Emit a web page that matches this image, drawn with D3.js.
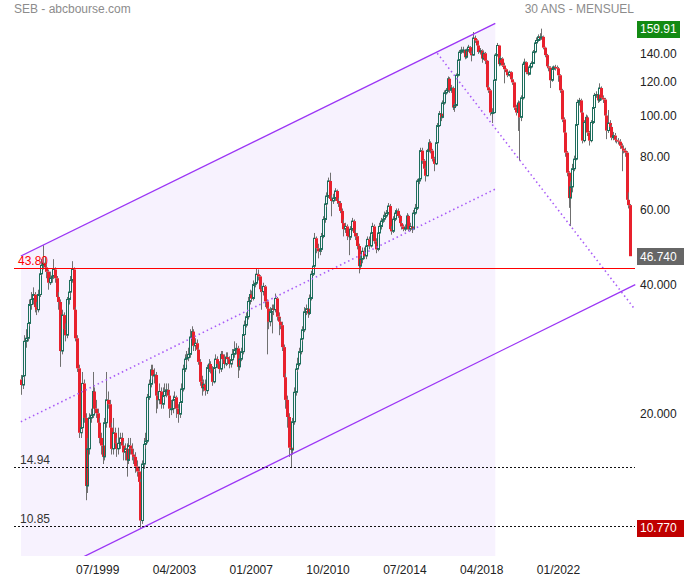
<!DOCTYPE html>
<html>
<head>
<meta charset="utf-8">
<script src="https://cdn.jsdelivr.net/npm/d3@7"></script>
<style>
    body { margin: 0; background: #fff; }
    svg { display: block; }
</style>
</head>
<body>
<div id="chart"></div>
<script>
// monthly candles, first one is 10/1995
var firstMonth = new Date(1995, 9, 1);
var firstOpen = 24.0;

var closes = [
    23.3, 24.5, 29.5, 30.0, 32.5, 36.0, 37.0, 38.0, 35.5, 35.0,
    38.0, 42.5, 44.5, 45.0, 44.0, 43.0, 40.5, 41.5, 42.0, 43.5,
    41.5, 37.5, 36.5, 28.0, 34.0, 31.5, 30.5, 37.0, 38.5, 41.0,
    43.5, 35.0, 30.0, 25.5, 18.0, 18.5, 23.5, 19.5, 13.5, 16.5,
    19.5, 19.8, 22.5, 20.5, 20.0, 19.0, 17.5, 16.8, 15.8, 19.0,
    21.5, 21.0, 18.5, 16.5, 18.0, 17.0, 16.5, 17.0, 17.5, 16.8,
    16.2, 16.5, 15.5, 16.8, 16.5, 16.0, 15.8, 15.0, 14.6, 13.8,
    11.2, 15.2, 16.9, 17.2, 21.8, 23.4, 25.3, 24.5, 24.6, 22.0,
    21.5, 22.5, 21.0, 22.0, 22.5, 22.7, 22.0, 20.5, 20.5, 21.5,
    21.8, 20.5, 19.9, 21.2, 22.8, 25.4, 26.8, 27.0, 27.5, 30.2,
    31.1, 28.8, 29.2, 28.2, 26.4, 23.7, 22.9, 23.4, 22.6, 25.6,
    26.1, 25.4, 23.7, 25.6, 26.8, 26.1, 25.4, 27.5, 26.8, 26.1,
    27.1, 26.8, 26.1, 26.7, 27.5, 28.2, 28.4, 25.7, 26.8, 27.9,
    30.6, 32.2, 33.7, 36.6, 38.0, 37.2, 40.1, 40.4, 42.4, 41.9,
    39.1, 38.6, 39.7, 36.6, 35.2, 32.8, 34.6, 35.2, 35.0, 37.2,
    33.7, 32.8, 32.2, 28.6, 24.3, 21.5, 19.6, 16.6, 16.4, 19.1,
    22.4, 25.4, 26.1, 27.9, 29.9, 31.4, 34.6, 35.2, 34.3, 37.2,
    42.4, 44.3, 51.5, 48.8, 48.0, 48.5, 52.0, 57.0, 62.0, 64.7,
    70.2, 63.7, 63.0, 64.0, 66.5, 63.0, 62.3, 59.7, 55.9, 54.1,
    54.9, 52.1, 51.8, 54.1, 56.5, 53.0, 52.1, 49.4, 44.3, 46.0,
    48.0, 46.8, 49.4, 51.2, 49.4, 53.0, 54.9, 50.7, 48.5, 53.0,
    54.9, 56.5, 57.1, 58.1, 59.0, 61.3, 54.1, 53.5, 57.1, 59.0,
    59.7, 58.1, 55.9, 54.9, 54.1, 54.5, 58.1, 54.1, 54.9, 54.1,
    59.0, 60.6, 70.2, 71.0, 82.7, 78.3, 75.0, 72.2, 82.7, 86.3,
    82.7, 79.1, 77.0, 86.3, 94.7, 101.0, 99.0, 107.0, 113.0, 114.6,
    122.0, 114.6, 116.0, 104.4, 105.6, 124.3, 134.9, 140.8, 142.4, 142.4,
    137.0, 142.4, 144.7, 140.0, 138.6, 152.0, 150.0, 146.0, 141.0, 142.0,
    136.0, 140.0, 134.4, 116.5, 114.6, 101.6, 101.6, 121.0, 138.6, 146.0,
    132.0, 136.0, 131.0, 128.4, 126.4, 124.3, 126.4, 121.6, 119.6, 104.4,
    101.6, 107.0, 99.0, 110.0, 132.0, 133.4, 126.4, 125.0, 130.0, 132.5,
    141.0, 148.0, 150.0, 153.0, 152.0, 153.0, 144.3, 138.6, 130.5, 129.5,
    121.0, 128.4, 130.0, 129.5, 129.0, 124.3, 114.6, 97.9, 91.2, 81.8,
    73.4, 64.0, 68.0, 75.0, 79.0, 95.2, 107.3, 108.5, 101.6, 87.3,
    96.3, 99.0, 91.2, 87.3, 96.3, 104.4, 111.5, 112.0, 108.5, 116.0,
    110.0, 109.0, 100.0, 92.2, 96.0, 94.0, 88.7, 89.7, 87.7, 87.3,
    86.8, 84.9, 83.6, 82.7, 81.8, 63.4, 61.6, 46.74
];

var highs = [
    24.6, 25.2, 30.5, 31.5, 33.5, 37.0, 38.5, 39.5, 38.5, 36.5,
    39.0, 43.5, 46.0, 49.6, 46.5, 45.0, 43.5, 43.0, 43.5, 46.0,
    44.0, 42.0, 38.5, 37.0, 35.0, 34.5, 32.5, 37.5, 39.5, 42.0,
    45.5, 44.0, 35.5, 30.5, 26.0, 19.5, 25.0, 24.0, 20.0, 17.5,
    20.0, 20.5, 25.0, 23.0, 21.5, 20.5, 19.5, 18.0, 17.5, 19.5,
    25.0, 22.5, 21.5, 19.0, 19.5, 18.5, 17.5, 18.5, 18.0, 18.0,
    17.2, 17.0, 17.0, 17.5, 17.5, 17.0, 16.5, 16.2, 15.5, 15.0,
    14.0, 15.5, 17.5, 18.0, 22.2, 24.0, 26.0, 26.0, 25.5, 25.0,
    22.5, 23.5, 23.0, 23.0, 23.5, 23.5, 23.5, 22.5, 21.5, 22.0,
    22.5, 22.0, 21.0, 22.0, 23.5, 26.0, 27.5, 28.0, 28.5, 31.5,
    32.0, 31.5, 30.0, 29.8, 28.5, 26.8, 24.5, 24.0, 24.0, 26.0,
    26.8, 26.5, 25.8, 26.0, 27.5, 27.2, 26.5, 28.0, 28.0, 27.5,
    27.8, 27.8, 27.2, 27.5, 28.3, 29.5, 29.2, 28.8, 27.5, 28.5,
    31.2, 33.0, 34.5, 37.5, 39.0, 38.8, 41.0, 41.5, 43.8, 43.5,
    42.2, 40.0, 40.5, 40.0, 37.0, 35.5, 35.5, 36.0, 36.0, 38.2,
    37.5, 34.5, 33.5, 32.8, 29.0, 24.8, 22.0, 20.0, 17.5, 19.5,
    23.0, 26.0, 27.0, 28.5, 30.5, 32.0, 35.5, 36.0, 35.8, 38.0,
    43.2, 45.5, 53.0, 52.0, 50.0, 50.0, 53.0, 58.0, 63.0, 66.0,
    71.5, 73.4, 65.0, 65.5, 67.5, 67.0, 64.0, 63.0, 60.5, 57.0,
    56.0, 55.5, 53.0, 55.0, 57.5, 57.0, 54.0, 53.0, 50.0, 47.0,
    49.0, 49.0, 50.0, 52.0, 52.0, 54.0, 56.0, 55.5, 51.5, 54.0,
    56.0, 57.5, 58.5, 59.5, 60.0, 62.3, 62.0, 55.0, 58.0, 60.0,
    60.5, 60.5, 58.5, 56.5, 55.5, 55.5, 59.0, 58.5, 56.0, 55.5,
    60.0, 62.0, 71.0, 76.0, 84.0, 84.0, 79.0, 76.0, 83.5, 88.0,
    87.0, 83.5, 80.0, 87.0, 96.0, 102.5, 102.0, 108.5, 114.5, 116.0,
    123.5, 123.0, 118.0, 117.0, 107.0, 125.5, 136.5, 142.5, 145.0, 145.0,
    143.0, 143.5, 146.5, 145.5, 141.5, 157.0, 154.0, 151.0, 147.0, 144.0,
    143.0, 142.0, 141.0, 135.0, 118.0, 115.5, 104.0, 122.0, 140.0, 148.0,
    146.5, 138.0, 137.0, 133.0, 129.0, 127.0, 127.5, 127.0, 122.5, 120.0,
    106.0, 108.5, 108.0, 111.5, 133.5, 136.0, 134.0, 128.0, 131.5, 134.0,
    142.5, 150.0, 152.5, 155.0, 156.0, 159.91, 154.0, 145.0, 139.5, 132.0,
    130.5, 129.5, 131.0, 131.5, 131.0, 130.0, 125.0, 115.5, 99.0, 92.0,
    82.5, 74.0, 70.0, 77.0, 80.5, 96.5, 109.0, 110.0, 109.5, 102.5,
    97.5, 100.5, 100.0, 92.0, 97.5, 105.5, 113.0, 114.0, 113.5, 119.0,
    117.0, 111.5, 110.0, 101.0, 103.0, 97.5, 95.0, 91.5, 91.0, 89.0,
    88.5, 88.0, 86.0, 85.0, 84.0, 82.5, 66.0, 62.0
];

var lows = [
    22.1, 22.8, 24.0, 28.5, 29.5, 32.0, 35.0, 36.0, 34.5, 34.0,
    34.5, 37.5, 42.0, 43.5, 43.0, 41.5, 39.0, 40.0, 40.5, 41.5,
    40.5, 36.5, 35.0, 25.7, 27.5, 30.5, 29.5, 30.0, 36.0, 37.5,
    40.5, 34.0, 29.5, 25.0, 17.5, 17.5, 18.0, 19.0, 12.5, 13.0,
    16.0, 19.0, 19.5, 20.0, 19.5, 18.5, 17.0, 16.0, 15.2, 15.5,
    18.5, 20.5, 18.0, 16.0, 16.0, 16.5, 15.8, 16.0, 16.5, 16.2,
    15.5, 15.5, 14.2, 15.2, 16.0, 15.5, 15.2, 14.5, 14.2, 13.2,
    10.77, 11.0, 14.8, 16.5, 17.0, 21.5, 23.0, 24.0, 23.5, 20.0,
    20.5, 21.0, 20.5, 20.5, 21.5, 21.8, 21.5, 19.5, 19.8, 20.0,
    20.5, 19.5, 19.0, 19.5, 21.0, 22.5, 25.0, 26.0, 26.5, 27.0,
    29.5, 28.0, 28.0, 27.5, 26.0, 23.2, 22.0, 22.5, 22.0, 22.2,
    25.0, 24.8, 23.2, 23.5, 25.2, 25.5, 24.8, 25.0, 26.2, 25.5,
    25.8, 26.0, 25.5, 25.6, 26.2, 27.0, 27.5, 24.2, 25.2, 26.5,
    27.5, 30.0, 31.8, 33.2, 36.0, 36.5, 36.8, 39.5, 40.0, 41.0,
    38.5, 35.0, 37.8, 35.5, 27.5, 31.5, 32.0, 30.8, 34.0, 34.5,
    33.0, 30.5, 31.5, 28.0, 23.5, 20.5, 18.5, 15.8, 14.94, 16.0,
    18.8, 22.0, 25.0, 25.8, 27.5, 29.5, 31.0, 34.0, 33.5, 34.0,
    36.8, 42.0, 44.0, 47.5, 46.2, 47.0, 48.0, 51.5, 56.0, 61.0,
    64.0, 63.0, 58.0, 62.0, 63.0, 62.0, 61.0, 59.0, 55.0, 52.0,
    53.0, 51.0, 47.0, 51.0, 53.5, 52.0, 51.0, 48.5, 42.6, 43.5,
    45.0, 46.0, 46.0, 49.0, 48.5, 49.0, 52.5, 50.0, 47.5, 48.0,
    52.5, 54.0, 56.0, 56.5, 57.5, 58.5, 53.5, 52.5, 53.0, 56.5,
    58.5, 57.5, 55.0, 54.0, 53.5, 53.5, 54.0, 53.5, 53.5, 53.0,
    53.8, 58.5, 60.0, 69.0, 70.5, 77.0, 74.0, 70.0, 72.0, 82.0,
    81.5, 78.0, 74.0, 76.5, 85.5, 94.0, 97.0, 98.5, 106.0, 112.0,
    113.5, 113.0, 113.0, 103.0, 102.0, 105.0, 123.5, 133.5, 139.5, 140.0,
    135.5, 136.0, 141.0, 138.5, 134.0, 138.0, 148.0, 144.5, 139.5, 139.0,
    133.0, 135.0, 132.0, 115.0, 113.0, 100.0, 96.0, 101.0, 120.0, 137.5,
    130.5, 131.0, 130.0, 119.0, 125.0, 123.0, 123.5, 120.5, 118.0, 103.0,
    100.0, 92.0, 78.3, 97.0, 109.0, 130.5, 125.0, 124.0, 124.5, 129.0,
    132.0, 140.0, 147.0, 149.0, 150.0, 150.5, 143.0, 137.0, 129.0, 127.0,
    116.0, 120.0, 127.0, 127.5, 126.0, 120.0, 113.0, 96.5, 89.5, 80.0,
    72.0, 60.7, 55.0, 66.0, 74.0, 78.5, 94.5, 105.5, 100.0, 86.0,
    86.5, 95.0, 89.5, 85.0, 86.5, 95.5, 103.5, 110.0, 107.0, 107.5,
    108.5, 107.0, 98.5, 88.0, 91.0, 92.0, 87.5, 87.5, 86.5, 86.0,
    85.5, 83.5, 74.0, 81.5, 80.0, 62.5, 60.5, 46.74
];

var xTicks = ["07/1999", "04/2003", "01/2007", "10/2010", "07/2014", "04/2018", "01/2022"];
var yTicks = [140, 120, 100, 80, 60, 40, 20];

// horizontal levels drawn on the chart
var levels = [43.80, 14.94, 10.85];
var levelLabels = ["43.80", "14.94", "10.85"];

// price tags on the right
var tags = [159.91, 46.74, 10.77];
var tagLabels = ["159.91", "46.740", "10.770"];

// trend channel, [month index, price]
var channelUpper = [[0, 46.8], [278, 164.5]];
var channelMid = [[0, 19.1], [278, 67.2]];
var channelLower = [[0, 7.79], [360, 40.1]];
var downLine = [[244, 140.0], [359, 35.4]];

var FONT = '"Liberation Sans", Arial, sans-serif';
var width = 684, height = 580;
var plotTop = 18, plotBottom = 556, plotLeft = 20, plotRight = 636;

var months = d3.timeMonth.range(firstMonth, d3.timeMonth.offset(firstMonth, closes.length))
    .map(d3.timeFormat("%m/%Y"));

var x = d3.scaleBand().domain(months).range([20, 631]);
var y = d3.scaleLog().domain([10, 100]).range([541.5, 115.5]);

function xi(i) {
    return x.range()[0] + (i + 0.5) * x.step();
}

var svg = d3.select('#chart')
    .append('svg')
    .attr('width', width)
    .attr('height', height)
    .attr('font-family', FONT);

svg.append('defs').append('clipPath').attr('id', 'plotclip')
    .append('rect')
    .attr('x', plotLeft).attr('y', plotTop)
    .attr('width', plotRight - plotLeft).attr('height', plotBottom - plotTop);

// titles
svg.append('text').attr('x', 14).attr('y', 13)
    .attr('font-size', 12).attr('fill', '#8c8c8c')
    .text('SEB - abcbourse.com');
svg.append('text').attr('x', 634).attr('y', 13)
    .attr('font-size', 12).attr('fill', '#8c8c8c').attr('text-anchor', 'end')
    .text('30 ANS - MENSUEL');

var plot = svg.append('g').attr('clip-path', 'url(#plotclip)');

// shaded channel zone (below the upper line)
function pt(p) { return [xi(p[0]), y(p[1])]; }
var u0 = pt(channelUpper[0]), u1 = pt(channelUpper[1]);
var slopeU = (u1[1] - u0[1]) / (u1[0] - u0[0]);
var leftY = u0[1] + (plotLeft + 1 - u0[0]) * slopeU;
plot.append('path')
    .attr('d', d3.line()([[plotLeft + 1, leftY], u1, [u1[0], plotBottom], [plotLeft + 1, plotBottom]]) + 'Z')
    .attr('fill', '#f7f2fe');

// candles
var candles = months.map(function (m, i) {
    return { i: i, o: i ? closes[i - 1] : firstOpen, c: closes[i], h: highs[i], l: lows[i] };
});

var cg = plot.append('g');
candles.forEach(function (d) {
    var cx = Math.round(xi(d.i));
    var top = y(Math.max(d.o, d.c)), bot = y(Math.min(d.o, d.c));
    if (bot - top < 1) { bot = top + 1; }
    cg.append('line')
        .attr('x1', cx + 0.5).attr('x2', cx + 0.5)
        .attr('y1', y(d.h)).attr('y2', top)
        .attr('stroke', '#707070').attr('stroke-width', 1);
    cg.append('line')
        .attr('x1', cx + 0.5).attr('x2', cx + 0.5)
        .attr('y1', bot).attr('y2', y(d.l))
        .attr('stroke', '#707070').attr('stroke-width', 1);
    if (d.c >= d.o) {
        cg.append('rect')
            .attr('x', cx - 0.5).attr('y', top)
            .attr('width', 2).attr('height', bot - top)
            .attr('fill', 'none').attr('stroke', '#1d6e5c').attr('stroke-width', 1);
    } else {
        cg.append('rect')
            .attr('x', cx - 1).attr('y', top)
            .attr('width', 3).attr('height', bot - top)
            .attr('fill', '#e8212d');
    }
});

// channel lines
var line = d3.line().x(function (p) { return xi(p[0]); }).y(function (p) { return y(p[1]); });
plot.append('path').attr('d', line(channelUpper))
    .attr('fill', 'none').attr('stroke', '#9b35f5').attr('stroke-width', 1.3);
plot.append('path').attr('d', line(channelLower))
    .attr('fill', 'none').attr('stroke', '#9b35f5').attr('stroke-width', 1.3);
plot.append('path').attr('d', line(channelMid))
    .attr('fill', 'none').attr('stroke', '#a95cf7').attr('stroke-width', 1.6)
    .attr('stroke-dasharray', '1.5,3');
plot.append('path').attr('d', line(downLine))
    .attr('fill', 'none').attr('stroke', '#a95cf7').attr('stroke-width', 1.6)
    .attr('stroke-dasharray', '1.5,3');

// horizontal levels
levels.forEach(function (v, k) {
    var first = k === 0;
    svg.append('line')
        .attr('x1', 14).attr('x2', 635)
        .attr('y1', Math.round(y(v)) + 0.5).attr('y2', Math.round(y(v)) + 0.5)
        .attr('stroke', first ? '#ff0000' : '#111')
        .attr('stroke-width', 1)
        .attr('stroke-dasharray', first ? null : '2,2');
    svg.append('text')
        .attr('x', first ? 18 : 20).attr('y', Math.round(y(v)) - 3)
        .attr('font-size', 12)
        .attr('fill', first ? '#ff0000' : '#333')
        .text(levelLabels[k]);
});

// axes
var gx = svg.append('g')
    .attr('transform', 'translate(0,' + plotBottom + ')')
    .call(d3.axisBottom(x).tickValues(xTicks).tickSize(0).tickPadding(9.5));
gx.select('.domain').remove();
gx.attr('font-family', FONT).attr('font-size', 12);
gx.selectAll('text').attr('fill', '#222');

var gy = svg.append('g')
    .attr('transform', 'translate(637,0)')
    .call(d3.axisRight(y).tickValues(yTicks).tickSize(0).tickPadding(3)
        .tickFormat(function (v) { return v >= 60 ? v.toFixed(2) : v.toFixed(3); }));
gy.select('.domain').remove();
gy.attr('font-family', FONT).attr('font-size', 12);
gy.selectAll('text').attr('fill', '#222');

// price tags
var tagColors = ['#138a13', '#666666', '#c00000'];
tags.forEach(function (v, k) {
    var ty = y(v);
    svg.append('rect')
        .attr('x', 637).attr('y', Math.round(ty) - 8)
        .attr('width', k === 0 ? 43 : 47).attr('height', 17)
        .attr('fill', tagColors[k]);
    svg.append('text')
        .attr('x', 640).attr('y', ty).attr('dy', '0.36em')
        .attr('font-size', 12).attr('fill', '#fff')
        .text(tagLabels[k]);
});
</script>
</body>
</html>
